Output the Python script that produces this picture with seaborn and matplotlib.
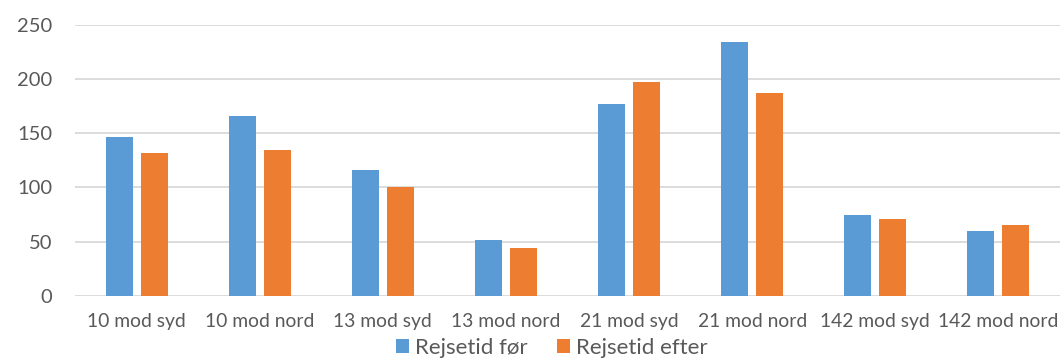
import matplotlib
matplotlib.use("Agg")
import matplotlib.pyplot as plt
import seaborn as sns
import pandas as pd

# Travel time per route and direction, before and after
routes = ["10 mod syd", "10 mod nord", "13 mod syd", "13 mod nord",
          "21 mod syd", "21 mod nord", "142 mod syd", "142 mod nord"]
rejsetid_foer = [146, 166, 116, 52, 177, 234, 75, 60]
rejsetid_efter = [132, 134, 100, 44, 197, 187, 71, 65]
series_names = ["Rejsetid før", "Rejsetid efter"]
y_ticks = [0, 50, 100, 150, 200, 250]

df = pd.DataFrame({
    "route": routes * 2,
    "value": rejsetid_foer + rejsetid_efter,
    "series": [series_names[0]] * len(routes) + [series_names[1]] * len(routes),
})

sns.set_theme(style="white")
plt.rcParams["font.family"] = ["Lato", "DejaVu Sans"]
text_color = "#595959"
grid_color = "#D9D9D9"

fig = plt.figure(figsize=(10.6, 3.58), dpi=100)
ax = fig.add_axes([75 / 1060, 1 - 296 / 358, 1 - 75 / 1060, (296 - 24.5) / 358])

sns.barplot(data=df, x="route", y="value", hue="series", order=routes,
            hue_order=series_names, palette=["#5B9BD5", "#ED7D31"],
            saturation=1, width=0.57, gap=0.23, linewidth=0, ax=ax)

ax.set_xlim(-0.5, len(routes) - 0.5)
ax.set_ylim(0, 250)
ax.set_yticks(y_ticks)
ax.set_xlabel("")
ax.set_ylabel("")
for side in ["top", "right", "left", "bottom"]:
    ax.spines[side].set_visible(False)
ax.set_axisbelow(True)
ax.yaxis.grid(True, color=grid_color, linewidth=1.3)
ax.xaxis.grid(False)
ax.tick_params(axis="y", length=0, pad=16.5, labelsize=14.5, labelcolor=text_color)
ax.tick_params(axis="x", length=0, pad=12.5, labelsize=13.9, labelcolor=text_color)

handles, labels = ax.get_legend_handles_labels()
ax.get_legend().remove()
fig.legend(handles, labels, loc="center", bbox_to_anchor=(552 / 1060, 0.029),
           ncol=2, frameon=False, fontsize=16, labelcolor=text_color,
           handlelength=0.6, handleheight=0.6, handletextpad=0.28,
           columnspacing=1.3, borderpad=0)

fig.savefig("out.png", dpi=100)
